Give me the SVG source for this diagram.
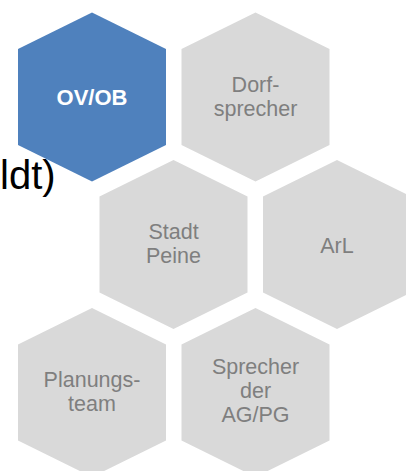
<svg xmlns="http://www.w3.org/2000/svg" xmlns:xlink="http://www.w3.org/1999/xlink" width="406" height="471" viewBox="0 0 406 471">
<style>
.hex{fill:#d9d9d9}
.hex.blue{fill:#4f81bd}
.lbl{font-family:"Liberation Sans",Arial,sans-serif;font-size:21.5px;fill:#7f7f7f;text-anchor:middle}
.lbl.w{fill:#ffffff;font-weight:bold;font-size:22px}
.bg{font-family:"Liberation Sans",Arial,sans-serif;font-size:40px;fill:#000000}
</style>
<defs>
<polygon id="hx" points="0,-84.5 74,-48 74,48 0,84.5 -74,48 -74,-48"/>
</defs>
<rect width="406" height="471" fill="#ffffff"/>
<text class="bg" x="0" y="189">ldt)</text>
<g id="ovob" transform="translate(92,97)">
<use xlink:href="#hx" class="hex blue"/>
<text class="lbl w" x="0" y="7.5">OV/OB</text>
</g>
<g id="dorfsprecher" transform="translate(255.5,97)">
<use xlink:href="#hx" class="hex"/>
<text class="lbl" x="0" y="-5">Dorf-</text>
<text class="lbl" x="0" y="19">sprecher</text>
</g>
<g id="stadtpeine" transform="translate(173.5,244.5)">
<use xlink:href="#hx" class="hex"/>
<text class="lbl" x="0" y="-5.5">Stadt</text>
<text class="lbl" x="0" y="18.5">Peine</text>
</g>
<g id="arl" transform="translate(337,244.5)">
<use xlink:href="#hx" class="hex"/>
<text class="lbl" x="0" y="8">ArL</text>
</g>
<g id="planungsteam" transform="translate(92,392.5)">
<use xlink:href="#hx" class="hex"/>
<text class="lbl" x="0" y="-6">Planungs-</text>
<text class="lbl" x="0" y="18">team</text>
</g>
<g id="sprecher" transform="translate(255.5,392.5)">
<use xlink:href="#hx" class="hex"/>
<text class="lbl" x="0" y="-18.5">Sprecher</text>
<text class="lbl" x="0" y="5.5">der</text>
<text class="lbl" x="0" y="29.5">AG/PG</text>
</g>
<g id="connectors"/>
</svg>
